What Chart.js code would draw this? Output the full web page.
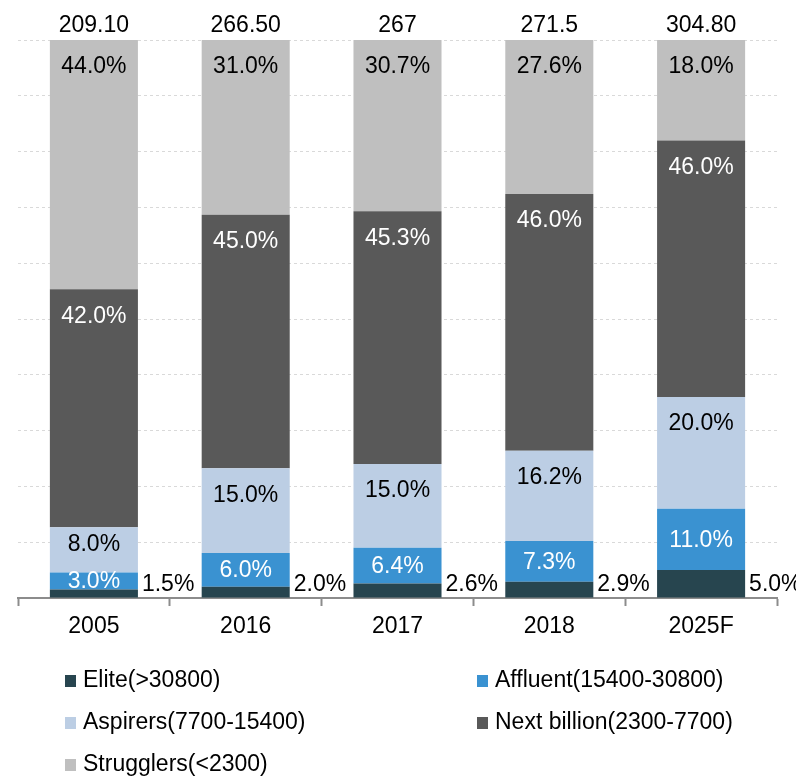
<!DOCTYPE html>
<html>
<head>
<meta charset="utf-8">
<script src="https://cdn.jsdelivr.net/npm/chart.js@4/dist/chart.umd.min.js"></script>
<style>
  html, body { margin: 0; padding: 0; background: #fff; }
  #wrap { width: 796px; height: 779px; position: relative; }
</style>
</head>
<body>
<div id="wrap"><canvas id="c" width="796" height="779"></canvas></div>
<script>
/* ---------- data ---------- */
const categories = ['2005', '2016', '2017', '2018', '2025F'];
const totals = ['209.10', '266.50', '267', '271.5', '304.80'];
const elite = [1.5, 2.0, 2.6, 2.9, 5.0];
const affluent = [3.0, 6.0, 6.4, 7.3, 11.0];
const aspirers = [8.0, 15.0, 15.0, 16.2, 20.0];
const nextBillion = [42.0, 45.0, 45.3, 46.0, 46.0];
const strugglers = [44.0, 31.0, 30.7, 27.6, 18.0];
const seriesNames = ['Elite(>30800)', 'Affluent(15400-30800)', 'Aspirers(7700-15400)', 'Next billion(2300-7700)', 'Strugglers(<2300)'];
const seriesColors = ['#27454f', '#3a92d1', '#bccee4', '#595959', '#bfbfbf'];

const FONT = "'Liberation Sans', Arial, sans-serif";
const FSIZE = 23;
const raw = [elite, affluent, aspirers, nextBillion, strugglers];

// 100% stacked: each column is scaled to its own sum (like Excel does)
const colSums = categories.map((_, i) => raw.reduce((s, arr) => s + arr[i], 0));
const toShare = arr => arr.map((v, i) => v / colSums[i] * 100);

/* ---------- label plugin ---------- */
const labelPlugin = {
  id: 'labels',
  afterDatasetsDraw(chart) {
    const ctx = chart.ctx;
    ctx.save();
    ctx.font = FSIZE + 'px ' + FONT;
    ctx.textBaseline = 'middle';
    chart.data.datasets.forEach((ds, d) => {
      const meta = chart.getDatasetMeta(d);
      meta.data.forEach((el, i) => {
        const txt = raw[d][i].toFixed(1) + '%';
        const h = el.base - el.y;
        if (d === 0) {
          ctx.textAlign = 'left';
          ctx.fillStyle = '#000';
          ctx.fillText(txt, el.x + el.width / 2 + 4, el.base - 13);
        } else if (d === 1) {
          ctx.textAlign = 'center';
          ctx.fillStyle = '#fff';
          ctx.fillText(txt, el.x, (el.y + el.base) / 2 + 1);
        } else {
          ctx.textAlign = 'center';
          ctx.fillStyle = d === 3 ? '#fff' : '#000';
          ctx.fillText(txt, el.x, el.y + 1 + Math.min(26, h * 0.37));
        }
      });
    });
    // totals above the bars
    const top = chart.getDatasetMeta(0).data;
    ctx.textAlign = 'center';
    ctx.fillStyle = '#000';
    top.forEach((el, i) => ctx.fillText(totals[i], el.x, chart.chartArea.top - 14));
    ctx.restore();
  },
  afterDraw(chart) {
    // two-column legend under the axis
    const ctx = chart.ctx;
    const colX = [65, 477], rowY = [681, 723, 765];
    ctx.save();
    ctx.font = FSIZE + 'px ' + FONT;
    ctx.textBaseline = 'middle';
    ctx.textAlign = 'left';
    chart.data.datasets.forEach((ds, d) => {
      const x = colX[d % 2], y = rowY[Math.floor(d / 2)];
      ctx.fillStyle = ds.backgroundColor;
      ctx.fillRect(x, y - 6, 11, 12);
      ctx.fillStyle = '#000';
      ctx.fillText(ds.label, x + 18, y);
    });
    ctx.restore();
  }
};

new Chart(document.getElementById('c').getContext('2d'), {
  type: 'bar',
  data: {
    labels: categories,
    datasets: raw.map((arr, d) => ({
      label: seriesNames[d],
      data: toShare(arr),
      backgroundColor: seriesColors[d],
      borderWidth: 0,
      categoryPercentage: 1,
      barPercentage: 0.58
    }))
  },
  options: {
    responsive: false,
    animation: false,
    layout: { padding: { left: 18, right: 19, top: 40, bottom: 0 } },
    scales: {
      x: {
        stacked: true,
        afterFit: s => { s.height = 779 - 598; },
        grid: { drawOnChartArea: false, drawTicks: true, tickLength: 8, tickColor: '#8c8c8c', tickWidth: 2, offset: true },
        border: { display: true, color: '#8c8c8c', width: 2 },
        ticks: { color: '#000', font: { family: FONT, size: FSIZE }, padding: 7 }
      },
      y: {
        stacked: true,
        min: 0, max: 100,
        afterFit: s => { s.width = 0; },
        ticks: { display: false, stepSize: 10 },
        grid: { color: '#d9d9d9', lineWidth: 1, drawTicks: false },
        border: { display: false, dash: [3, 3] }
      }
    },
    plugins: { legend: { display: false }, tooltip: { enabled: false } }
  },
  plugins: [labelPlugin]
});
</script>
</body>
</html>
